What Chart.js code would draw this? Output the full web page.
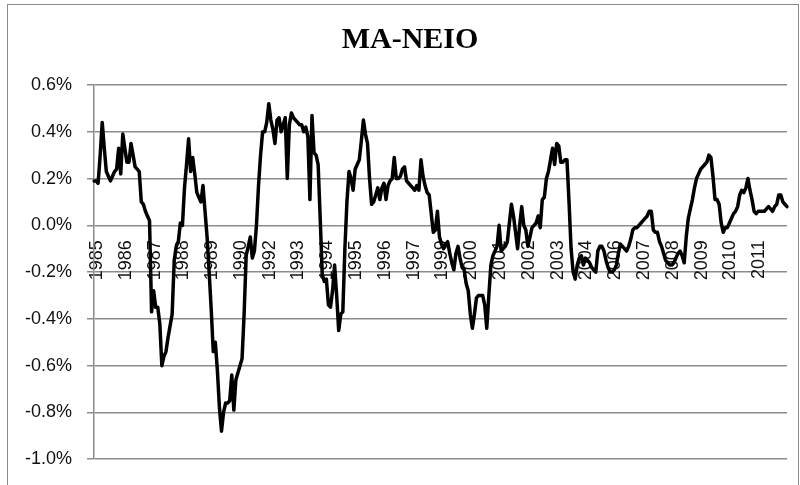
<!DOCTYPE html>
<html><head><meta charset="utf-8">
<script src="https://cdn.jsdelivr.net/npm/chart.js@4/dist/chart.umd.min.js"></script>
<style>html,body{margin:0;padding:0;background:#fff}#wrap{width:800px;height:485px;position:relative}</style>
</head><body><div id="wrap"><canvas id="c" width="800" height="485"></canvas></div>
<script>
// Monthly MA-NEIO values (%), Jan 1985 onwards
const y1985=[0.19,0.19,0.18,0.30,0.44,0.33,0.23,0.21,0.19,0.21,0.23,0.24];
const y1986=[0.33,0.22,0.39,0.33,0.27,0.27,0.35,0.30,0.25,0.24,0.23,0.10];
const y1987=[0.09,0.06,0.04,0.02,-0.37,-0.28,-0.35,-0.35,-0.42,-0.60,-0.56,-0.54];
const y1988=[-0.48,-0.43,-0.38,-0.15,-0.09,-0.07,0.01,0.00,0.16,0.26,0.37,0.23];
const y1989=[0.29,0.22,0.14,0.12,0.10,0.17,0.06,-0.05,-0.20,-0.36,-0.54,-0.50];
const y1990=[-0.62,-0.78,-0.88,-0.80,-0.76,-0.76,-0.75,-0.64,-0.79,-0.66,-0.63,-0.60];
const y1991=[-0.57,-0.38,-0.13,-0.09,-0.05,-0.14,-0.11,0.00,0.17,0.30,0.40,0.40];
const y1992=[0.44,0.52,0.45,0.41,0.35,0.45,0.46,0.40,0.43,0.46,0.20,0.43];
const y1993=[0.48,0.46,0.45,0.44,0.43,0.43,0.40,0.42,0.38,0.11,0.47,0.31];
const y1994=[0.30,0.26,0.03,-0.21,-0.24,-0.23,-0.34,-0.35,-0.28,-0.17,-0.30,-0.45];
const y1995=[-0.38,-0.37,-0.10,0.10,0.23,0.20,0.15,0.24,0.26,0.28,0.36,0.45];
const y1996=[0.39,0.35,0.20,0.09,0.10,0.13,0.16,0.11,0.16,0.18,0.11,0.17];
const y1997=[0.19,0.20,0.29,0.20,0.20,0.21,0.24,0.25,0.19,0.18,0.17,0.16];
const y1998=[0.15,0.17,0.15,0.28,0.21,0.17,0.14,0.13,0.05,-0.03,-0.02,0.06];
const y1999=[-0.05,-0.08,-0.10,-0.08,-0.07,-0.12,-0.16,-0.19,-0.12,-0.09,-0.14,-0.18];
const y2000=[-0.19,-0.25,-0.28,-0.38,-0.44,-0.38,-0.31,-0.30,-0.30,-0.30,-0.34,-0.44];
const y2001=[-0.30,-0.17,-0.13,-0.11,-0.09,0.00,-0.11,-0.10,-0.09,-0.07,0.01,0.09];
const y2002=[0.04,-0.03,-0.10,0.00,0.08,0.00,-0.02,-0.09,-0.05,-0.01,0.00,0.01];
const y2003=[0.04,-0.01,0.11,0.12,0.20,0.23,0.28,0.33,0.26,0.35,0.34,0.27];
const y2004=[0.27,0.28,0.28,0.10,-0.10,-0.20,-0.23,-0.17,-0.14,-0.13,-0.17,-0.14];
const y2005=[-0.15,-0.16,-0.18,-0.19,-0.20,-0.11,-0.09,-0.09,-0.11,-0.15,-0.18,-0.20];
const y2006=[-0.20,-0.19,-0.17,-0.12,-0.08,-0.09,-0.10,-0.11,-0.09,-0.06,-0.02,-0.01];
const y2007=[-0.01,0.00,0.01,0.02,0.03,0.04,0.06,0.06,-0.02,-0.03,-0.03,-0.07];
const y2008=[-0.09,-0.12,-0.15,-0.16,-0.17,-0.17,-0.16,-0.14,-0.12,-0.11,-0.13,-0.16];
const y2009=[-0.05,0.03,0.07,0.11,0.16,0.20,0.22,0.24,0.25,0.26,0.27,0.30];
const y2010=[0.29,0.21,0.11,0.11,0.09,0.01,-0.03,-0.01,-0.01,0.01,0.03,0.05];
const y2011=[0.06,0.08,0.13,0.15,0.14,0.16,0.20,0.15,0.11,0.06,0.05,0.06];
const y2012=[0.06,0.06,0.06,0.07,0.08,0.07,0.06,0.08,0.09,0.13,0.13,0.10];
const y2013=[0.09,0.08];

const xTickLabels=['1985','1986','1987','1988','1989','1990','1992','1993','1994','1995','1996','1997',
  '1999','2000','2001','2002','2003','2004','2006','2007','2008','2009','2010','2011'];
const labelEvery=14;
const yMin=-1.0, yMax=0.6, yStep=0.2;
const chartTitle='MA-NEIO';

const values=[].concat(y1985,y1986,y1987,y1988,y1989,y1990,y1991,y1992,y1993,y1994,y1995,y1996,y1997,
  y1998,y1999,y2000,y2001,y2002,y2003,y2004,y2005,y2006,y2007,y2008,y2009,y2010,y2011,y2012,y2013);
const categories=values.map((_,i)=>i);

const gridCol='#8c8c8c';
const frame={id:'frame',
  afterLayout(chart){ chart.scales.y.left=0; },
  beforeDraw(chart){const c=chart.ctx;c.save();c.fillStyle='#fff';c.fillRect(0,0,chart.width,chart.height);
  c.strokeStyle='#8c8c8c';c.lineWidth=1;c.strokeRect(7.5,4.5,791,481);c.restore();}};

new Chart(document.getElementById('c'),{
  type:'line',
  data:{labels:categories,datasets:[{data:values,borderColor:'#000',borderWidth:3.5,pointRadius:0,tension:0,
    borderJoinStyle:'round',borderCapStyle:'round',fill:false}]},
  options:{
    responsive:false,animation:false,devicePixelRatio:1,
    layout:{padding:{left:33,right:13,top:0,bottom:23}},
    plugins:{legend:{display:false},tooltip:{enabled:false},
      title:{display:true,text:chartTitle,color:'#000',font:{family:'Liberation Serif',size:30,weight:'bold'},padding:{top:22,bottom:27}}},
    scales:{
      x:{type:'category',position:{y:0},offset:false,
        grid:{display:false,drawTicks:false},border:{display:false},
        afterFit(s){s.paddingLeft=0;s.paddingRight=0;},
        ticks:{autoSkip:false,minRotation:90,maxRotation:90,padding:15,labelOffset:3,color:'#111',
          font:{family:'Liberation Sans',size:18},
          callback:(v,i)=> (i%labelEvery===0 && xTickLabels[i/labelEvery]) ? xTickLabels[i/labelEvery] : ''}},
      y:{min:yMin,max:yMax,
        afterFit(s){s.width=61;},
        grid:{color:gridCol,lineWidth:1.5,drawTicks:true,tickLength:7,tickColor:gridCol},
        border:{display:true,color:gridCol,width:1.5},
        ticks:{stepSize:yStep,padding:15,color:'#111',font:{family:'Liberation Sans',size:18},
          callback:(v)=>{let r=Math.round(v*10)/10; if(Math.abs(r)<1e-9) r=0; return r.toFixed(1)+'%';}}}
    }
  },
  plugins:[frame]
});
</script></body></html>
